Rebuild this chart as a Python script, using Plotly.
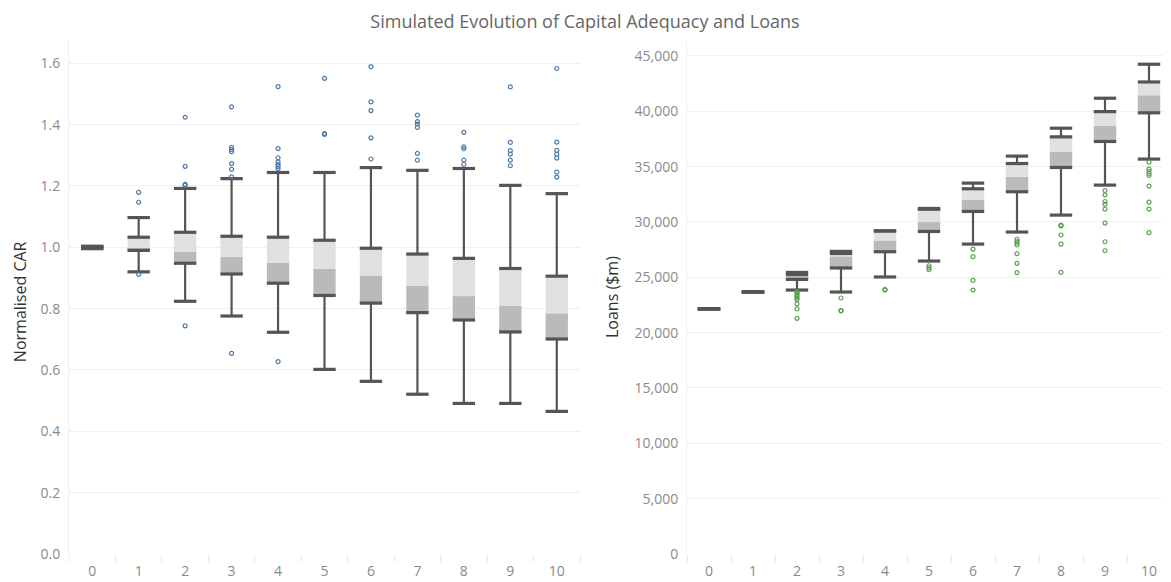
import plotly.graph_objects as go
from plotly.subplots import make_subplots

steps = list(range(11))

# Normalised CAR box statistics per step
car_lower = [0.996, 0.920, 0.824, 0.776, 0.723, 0.602, 0.563, 0.521, 0.491, 0.491, 0.465]
car_q1 = [0.996, 0.990, 0.948, 0.913, 0.883, 0.843, 0.818, 0.787, 0.763, 0.724, 0.701]
car_median = [1.000, 0.998, 0.986, 0.969, 0.950, 0.930, 0.908, 0.875, 0.841, 0.809, 0.785]
car_q3 = [1.003, 1.033, 1.049, 1.036, 1.033, 1.023, 0.997, 0.978, 0.964, 0.931, 0.906]
car_upper = [1.003, 1.097, 1.192, 1.224, 1.244, 1.244, 1.260, 1.251, 1.257, 1.202, 1.175]
car_outliers = [
    [],
    [1.179, 1.147, 0.912],
    [1.424, 1.264, 1.205, 1.202, 0.744],
    [1.458, 1.326, 1.319, 1.312, 1.273, 1.254, 1.230, 0.654],
    [1.524, 1.322, 1.292, 1.278, 1.270, 1.263, 1.256, 0.627],
    [1.551, 1.371, 1.368],
    [1.589, 1.474, 1.446, 1.357, 1.288],
    [1.431, 1.410, 1.402, 1.391, 1.306, 1.284],
    [1.375, 1.328, 1.322, 1.284, 1.270],
    [1.523, 1.342, 1.315, 1.304, 1.284, 1.266],
    [1.583, 1.343, 1.316, 1.303, 1.291, 1.245, 1.229],
]

# Loans ($m) box statistics per step
loan_lower = [22130, 23660, 23850, 23670, 25030, 26470, 28000, 29090, 30620, 33330, 35680]
loan_q1 = [22130, 23660, 24810, 25840, 27310, 29140, 30950, 32730, 34920, 37270, 39860]
loan_median = [22150, 23680, 25025, 26890, 28330, 29990, 32000, 34080, 36340, 38680, 41450]
loan_q3 = [22170, 23700, 25235, 27150, 29180, 31150, 33000, 35280, 37690, 39970, 42650]
loan_upper = [22170, 23700, 25440, 27340, 29200, 31220, 33510, 35950, 38470, 41180, 44250]
loan_outliers = [
    [],
    [],
    [23700, 23600, 23430, 23280, 23130, 22980, 22590, 22140, 21290],
    [23130, 21990, 21960],
    [23900, 23850],
    [26045, 25860, 25680],
    [27550, 26860, 24720, 23850],
    [28460, 28280, 28100, 27920, 27130, 26260, 25415],
    [29720, 29650, 28820, 28000, 25440],
    [32840, 32450, 31850, 31610, 31160, 29900, 28210, 27400],
    [35400, 34770, 34560, 34380, 34200, 33240, 31800, 31160, 29030],
]

DARK = "#555555"
LIGHT_BOX = "#e0e0e0"
MID_BOX = "#bababa"
FONT = "'Open Sans', sans-serif"

# the page body adds an 8px margin, so the figure is sized to the rest
PAD = 8
W, H = 1171 - PAD, 582 - PAD

fig = make_subplots(rows=1, cols=2)


def add_boxes(col, lower, q1, med, q3, upper, outliers, bar_width, dot_color):
    fig.add_trace(go.Bar(
        x=steps, y=[m - a for m, a in zip(med, q1)], base=q1, width=bar_width,
        marker=dict(color=MID_BOX, line_width=0), hoverinfo="skip"), row=1, col=col)
    fig.add_trace(go.Bar(
        x=steps, y=[b - m for m, b in zip(med, q3)], base=med, width=bar_width,
        marker=dict(color=LIGHT_BOX, line_width=0), hoverinfo="skip"), row=1, col=col)
    # whisker stems
    fig.add_trace(go.Scatter(
        x=steps, y=q3, mode="markers", marker=dict(size=1, opacity=0),
        error_y=dict(type="data", symmetric=False,
                     array=[u - b for u, b in zip(upper, q3)],
                     arrayminus=[0] * len(steps),
                     width=0, thickness=2.2, color=DARK)), row=1, col=col)
    fig.add_trace(go.Scatter(
        x=steps, y=q1, mode="markers", marker=dict(size=1, opacity=0),
        error_y=dict(type="data", symmetric=False,
                     array=[0] * len(steps),
                     arrayminus=[a - lo for a, lo in zip(q1, lower)],
                     width=0, thickness=2.2, color=DARK)), row=1, col=col)
    # caps and hinges
    fig.add_trace(go.Scatter(
        x=steps * 4, y=list(upper) + list(q3) + list(q1) + list(lower),
        mode="markers",
        marker=dict(symbol="line-ew", size=16, line=dict(width=3.2, color=DARK))),
        row=1, col=col)
    ox, oy = [], []
    for s, vals in zip(steps, outliers):
        ox += [s] * len(vals)
        oy += vals
    fig.add_trace(go.Scatter(
        x=ox, y=oy, mode="markers",
        marker=dict(symbol="circle-open", size=4, color=dot_color,
                    line=dict(width=1.2, color=dot_color))), row=1, col=col)


add_boxes(1, car_lower, car_q1, car_median, car_q3, car_upper, car_outliers, 0.48, "#4e79a7")
add_boxes(2, loan_lower, loan_q1, loan_median, loan_q3, loan_upper, loan_outliers, 0.51, "#59a14f")

fig.update_xaxes(
    range=[-0.5, 10.5], tickmode="array", tickvals=steps, ticks="",
    showgrid=False, zeroline=False, showline=False, automargin=False,
    ticklabelstandoff=7,
    tickfont=dict(size=14, color="#8a8a8a", family=FONT),
    minor=dict(ticks="outside", tick0=-0.5, dtick=1, ticklen=7,
               tickcolor="#e8e8e8", tickwidth=1, showgrid=False),
)
fig.update_xaxes(domain=[(69 - PAD) / W, (580 - PAD) / W], row=1, col=1)
fig.update_xaxes(domain=[(687 - PAD) / W, 1.0], row=1, col=2)

fig.update_yaxes(
    showgrid=True, gridcolor="#f0f0f0", gridwidth=1, zeroline=False,
    showline=True, linecolor="#f0f0f0", linewidth=1, ticks="", automargin=False,
    ticklabelstandoff=5,
    tickfont=dict(size=14, color="#8a8a8a", family=FONT),
)
fig.update_yaxes(range=[0, 1.676], dtick=0.2, tickformat=".1f", row=1, col=1)
fig.update_yaxes(range=[0, 46440], dtick=5000, tickformat=",", row=1, col=2)

fig.update_layout(
    width=W, height=H,
    margin=dict(l=0, r=0, t=40 - PAD, b=582 - 554),
    paper_bgcolor="white", plot_bgcolor="white",
    barmode="overlay", showlegend=False,
    font=dict(family=FONT, color="#555555"),
    title=dict(text="Simulated Evolution of Capital Adequacy and Loans",
               x=(585 - PAD) / W, xanchor="center", y=1 - (22 - PAD) / H,
               yanchor="middle",
               font=dict(size=18, color="#666666", family=FONT)),
    annotations=[
        dict(text="Normalised CAR", textangle=-90, x=(20 - PAD) / W, y=0.49,
             xref="paper", yref="paper", showarrow=False,
             xanchor="center", yanchor="middle",
             font=dict(size=16, color="#333333", family=FONT)),
        dict(text="Loans ($m)", textangle=-90, x=(612 - PAD) / W, y=0.5,
             xref="paper", yref="paper", showarrow=False,
             xanchor="center", yanchor="middle",
             font=dict(size=16, color="#333333", family=FONT)),
    ],
)

fig.write_html("out.html")
